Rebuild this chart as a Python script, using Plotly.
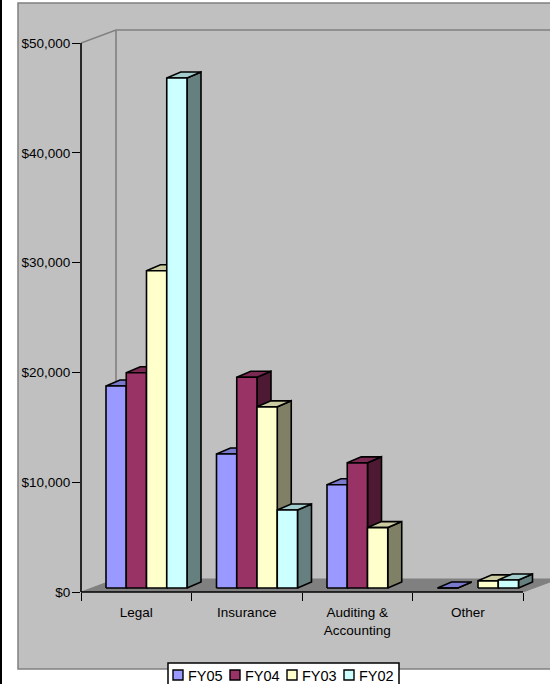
import plotly.graph_objects as go

# ---- data ----
categories = ["Legal", "Insurance", "Auditing &<br>Accounting", "Other"]
series_names = ["FY05", "FY04", "FY03", "FY02"]
fy05 = [18400, 12200, 9400, 0]
fy04 = [19600, 19200, 11400, None]
fy03 = [28900, 16500, 5500, 650]
fy02 = [46450, 7100, None, 730]
series_values = [fy05, fy04, fy03, fy02]
y_ticks = [0, 10000, 20000, 30000, 40000, 50000]

front_colors = ["#9999FF", "#993366", "#FFFFCC", "#CCFFFF"]
top_colors = ["#7A7ACC", "#7A2952", "#CCCCA3", "#A3CCCC"]
side_colors = ["#4D4D80", "#4D1933", "#808066", "#668080"]

W, H = 550, 684
X0, X1 = 81, 523        # pixel extent of the category axis
Y0, Y1 = 592, 43        # pixel extent of the value axis
Y_TOP_PX = 26           # plot area runs above the axis to hold the back wall
Y_MAX = y_ticks[-1]
N = len(categories)
ux = (X1 - X0) / N            # px per category
uy = (Y0 - Y1) / Y_MAX        # px per dollar


def dx(px):
    return px / ux


def dy(px):
    return px / uy


# oblique projection of depth, in data units
WALL_X, WALL_Y = dx(35), dy(13)
BAR_SHIFT_X, BAR_SHIFT_Y = dx(10), dy(4)
BAR_DEPTH_X, BAR_DEPTH_Y = dx(14), dy(6)
GAP = dx(15)
BAR_W = dx(20.25)
EDGE = dict(color="#000000", width=1.6)


def ring(points):
    xs, ys = [], []
    for p in points + [points[0]]:
        xs.append(p[0])
        ys.append(p[1])
    xs.append(None)
    ys.append(None)
    return xs, ys


fig = go.Figure()

# floor
fx, fy = ring([(0, 0), (WALL_X, WALL_Y), (N + WALL_X, WALL_Y), (N, 0)])
fig.add_trace(go.Scatter(x=fx, y=fy, mode="lines", fill="toself", fillcolor="#808080",
                         line=dict(color="#808080", width=1),
                         showlegend=False, hoverinfo="skip"))
# back wall edges
fig.add_trace(go.Scatter(
    x=[0, WALL_X, N + WALL_X, None, WALL_X, WALL_X],
    y=[Y_MAX, Y_MAX + WALL_Y, Y_MAX + WALL_Y, None, Y_MAX + WALL_Y, WALL_Y],
    mode="lines", line=dict(color="#808080", width=1.6),
    showlegend=False, hoverinfo="skip"))

# 3-D columns, back faces first, left to right
for s, (name, values) in enumerate(zip(series_names, series_values)):
    sx, sy, tx, ty, fx, fy = [], [], [], [], [], []
    for c, v in enumerate(values):
        if v is None:
            continue
        x_l = c + BAR_SHIFT_X + GAP + s * BAR_W
        x_r = x_l + BAR_W
        y_b = BAR_SHIFT_Y
        y_t = BAR_SHIFT_Y + v
        a, b = ring([(x_r, y_b), (x_r + BAR_DEPTH_X, y_b + BAR_DEPTH_Y),
                     (x_r + BAR_DEPTH_X, y_t + BAR_DEPTH_Y), (x_r, y_t)])
        sx += a; sy += b
        a, b = ring([(x_l, y_t), (x_r, y_t), (x_r + BAR_DEPTH_X, y_t + BAR_DEPTH_Y),
                     (x_l + BAR_DEPTH_X, y_t + BAR_DEPTH_Y)])
        tx += a; ty += b
        a, b = ring([(x_l, y_b), (x_r, y_b), (x_r, y_t), (x_l, y_t)])
        fx += a; fy += b
    for xs, ys, col in ((sx, sy, side_colors[s]), (tx, ty, top_colors[s]), (fx, fy, front_colors[s])):
        fig.add_trace(go.Scatter(x=xs, y=ys, mode="lines", fill="toself", fillcolor=col,
                                 line=EDGE, name=name, showlegend=False, hoverinfo="name"))


def px_x(v):
    return v / W


def px_y(v):
    return 1 - v / H


AXIS_LINE = dict(color="#000000", width=1.6)
shapes = [
    dict(type="rect", xref="paper", yref="paper", x0=px_x(18), x1=px_x(600), y0=px_y(669), y1=px_y(3),
         fillcolor="#C0C0C0", line=dict(color="#808080", width=1.5), layer="below"),
    dict(type="rect", xref="paper", yref="paper", x0=0, x1=px_x(2), y0=0, y1=1,
         fillcolor="#000000", line=dict(width=0), layer="below"),
    # value axis and category axis stop at their last tick
    dict(type="line", xref="paper", yref="paper", x0=px_x(X0), x1=px_x(X0), y0=px_y(Y0), y1=px_y(Y1),
         line=AXIS_LINE, layer="above"),
    dict(type="line", xref="paper", yref="paper", x0=px_x(X0), x1=px_x(X1), y0=px_y(Y0), y1=px_y(Y0),
         line=AXIS_LINE, layer="above"),
    dict(type="rect", xref="paper", yref="paper", x0=px_x(168), x1=px_x(399), y0=px_y(690), y1=px_y(663),
         fillcolor="#FFFFFF", line=dict(color="#000000", width=1.5), layer="above"),
]
annotations = []
for i, name in enumerate(series_names):
    sw = 173 + i * 57
    shapes.append(dict(type="rect", xref="paper", yref="paper", x0=px_x(sw), x1=px_x(sw + 10),
                       y0=px_y(680), y1=px_y(670), fillcolor=front_colors[i],
                       line=dict(color="#000000", width=1.4), layer="above"))
    annotations.append(dict(xref="paper", yref="paper", x=px_x(sw + 12.5), y=px_y(675.5), text=name,
                            showarrow=False, xanchor="left", yanchor="middle",
                            font=dict(family="Liberation Sans, Arial", size=14.5, color="#000000")))

fig.update_layout(
    width=W, height=H, margin=dict(l=0, r=0, t=0, b=0), autosize=False,
    paper_bgcolor="#FFFFFF", plot_bgcolor="rgba(0,0,0,0)",
    font=dict(family="Liberation Sans, Arial", size=13.5, color="#000000"),
    showlegend=False, shapes=shapes, annotations=annotations,
    xaxis=dict(domain=[X0 / W, 1], range=[0, (W - X0) / ux], tickmode="array", automargin=False,
               tickvals=[i + 0.5 for i in range(N)], ticktext=categories,
               ticks="outside", ticklen=8, tickcolor="rgba(0,0,0,0)",
               showgrid=False, zeroline=False, showline=False,
               minor=dict(tickmode="array", tickvals=list(range(N + 1)), ticks="outside",
                          ticklen=8, tickcolor="#000000", tickwidth=1.4, showgrid=False)),
    yaxis=dict(domain=[1 - Y0 / H, 1 - Y_TOP_PX / H], range=[0, (Y0 - Y_TOP_PX) / uy], tickmode="array",
               automargin=False, tickvals=y_ticks, ticktext=[f"${v:,.0f}" for v in y_ticks],
               ticks="outside", ticklen=8, tickcolor="#000000", tickwidth=1.4, ticklabelstandoff=-1,
               showgrid=False, zeroline=False, showline=False),
)

fig.write_html("out.html", config={"displayModeBar": False}, post_script="document.body.style.margin='0';")
